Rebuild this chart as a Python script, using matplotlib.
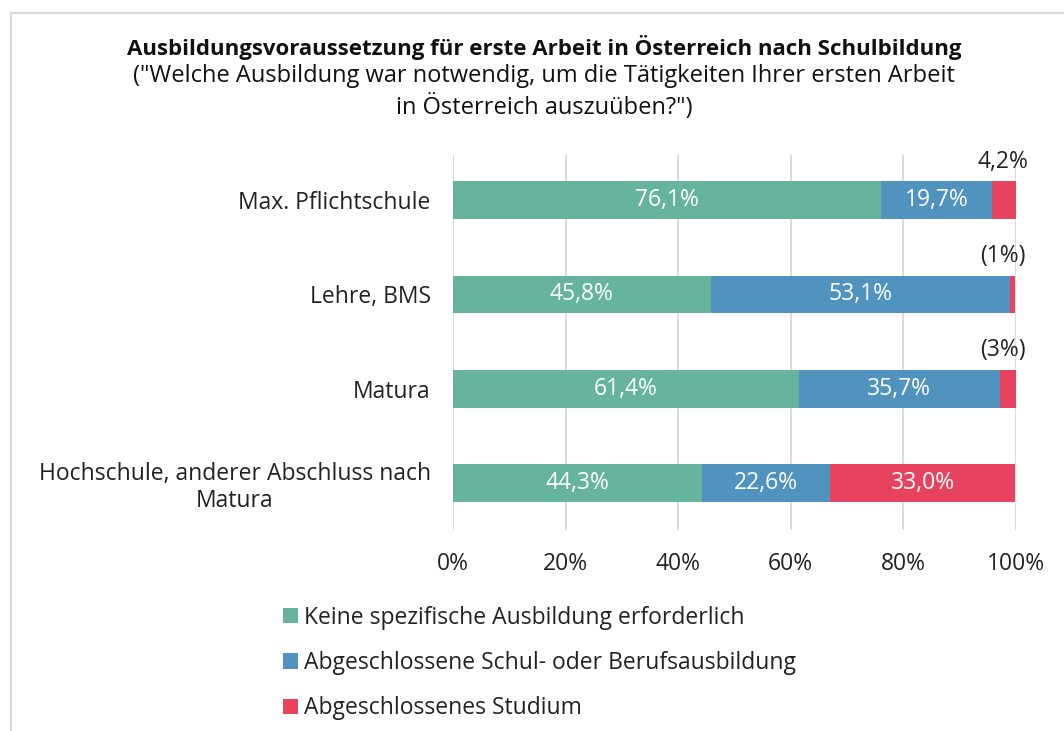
import matplotlib.pyplot as plt
from matplotlib.lines import Line2D
from matplotlib.patches import Patch

plt.rcParams['font.family'] = ['Open Sans', 'DejaVu Sans']

categories = ["Max. Pflichtschule", "Lehre, BMS", "Matura",
              "Hochschule, anderer Abschluss nach\nMatura"]
series_names = ["Keine spezifische Ausbildung erforderlich",
                "Abgeschlossene Schul- oder Berufsausbildung",
                "Abgeschlossenes Studium"]
keine = [76.1, 45.8, 61.4, 44.3]
schule = [19.7, 53.1, 35.7, 22.6]
studium = [4.2, 1.0, 3.0, 33.0]
# small shares are written above the bar instead of inside
studium_labels = ["4,2%", "(1%)", "(3%)", "33,0%"]
colors = ["#66B49E", "#5093BE", "#E8435E"]

fs = 16.5

fig = plt.figure(figsize=(10.64, 7.31), dpi=100)
ax = fig.add_axes([453 / 1064, 1 - 530 / 731, 563 / 1064, 375 / 731])

ypos = list(range(len(categories)))
left = [0.0] * len(categories)
for vals, col in zip([keine, schule, studium], colors):
    ax.barh(ypos, vals, left=left, height=0.4, color=col, zorder=2)
    left = [l + v for l, v in zip(left, vals)]

def fmt(v):
    return f"{v:.1f}%".replace(".", ",")

for i in ypos:
    a, b, c = keine[i], schule[i], studium[i]
    ax.text(a / 2, i, fmt(a), ha="center", va="center", color="white",
            fontsize=fs, zorder=3)
    ax.text(a + b / 2, i, fmt(b), ha="center", va="center", color="white",
            fontsize=fs, zorder=3)
    if c >= 10:
        ax.text(a + b + c / 2, i, studium_labels[i], ha="center", va="center",
                color="white", fontsize=fs, zorder=3)
    else:
        ax.text(97.6, i - 0.41, studium_labels[i], ha="center", va="center",
                color="#222222", fontsize=fs, zorder=3)

ax.set_xlim(0, 100)
ax.set_ylim(3.5, -0.48)
ax.set_xticks([0, 20, 40, 60, 80, 100])
ax.set_xticklabels(["0%", "20%", "40%", "60%", "80%", "100%"])
ax.set_yticks(ypos)
ax.set_yticklabels(categories, multialignment="center")
ax.tick_params(axis="both", length=0, labelsize=fs, colors="#222222")
ax.tick_params(axis="y", pad=16)
ax.tick_params(axis="x", pad=16)
ax.xaxis.grid(True, color="#d9d9d9", linewidth=1.3, zorder=0)
for s in ax.spines.values():
    s.set_visible(False)

cx = 544 / 1064
fig.text(cx, 1 - 47 / 731,
         "Ausbildungsvoraussetzung für erste Arbeit in Österreich nach Schulbildung",
         ha="center", va="center", fontsize=16, fontweight="bold", color="#111111")
fig.text(cx, 1 - 92 / 731,
         "(\"Welche Ausbildung war notwendig, um die Tätigkeiten Ihrer ersten Arbeit\n"
         "in Österreich auszuüben?\")",
         ha="center", va="center", fontsize=17, color="#111111", linespacing=1.27)

handles = [Patch(facecolor=c, edgecolor="none") for c in colors]
fig.legend(handles, series_names, loc="upper left",
           bbox_to_anchor=(262 / 1064, 1 - 585 / 731), frameon=False,
           fontsize=16.5, handlelength=0.65, handleheight=0.65,
           handletextpad=0.3, labelspacing=0.93, labelcolor="#222222")

# light frame around the chart area
fig.add_artist(Line2D([11 / 1064, 11 / 1064], [0, 1 - 13 / 731],
                      transform=fig.transFigure, color="#d9d9d9", linewidth=1.5))
fig.add_artist(Line2D([11 / 1064, 1], [1 - 13 / 731, 1 - 13 / 731],
                      transform=fig.transFigure, color="#d9d9d9", linewidth=1.5))

fig.savefig("out.png", dpi=100, facecolor="white")
